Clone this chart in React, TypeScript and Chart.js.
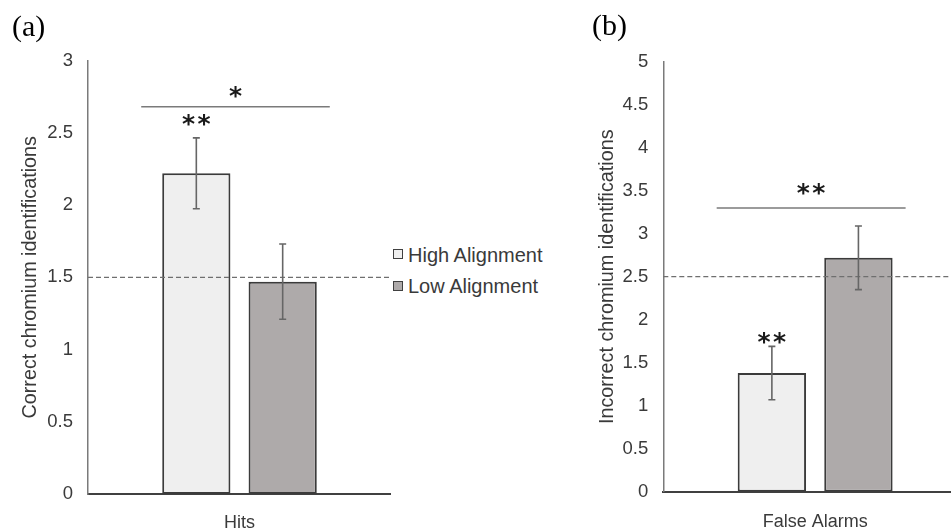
import React, { useEffect, useRef } from 'react';
import { Chart, registerables } from 'chart.js';

Chart.register(...registerables);

// ---------- data ----------
const seriesLabels = ['High Alignment', 'Low Alignment'];
const seriesFill = ['#efefef', '#aeaaaa'];

const hitsLabels = ['Hits'];
const hitsHigh = [2.22];
const hitsLow = [1.47];
const hitsHighErr = [0.245];
const hitsLowErr = [0.26];
const hitsTickLabels = ['0', '0.5', '1', '1.5', '2', '2.5', '3'];
const hitsMax = 3;
const hitsChance = 1.5;
const hitsBracketLevel = 2.68;
const hitsBracketStars = '*';
const hitsBracketStarLevel = 2.784;
const hitsBarStars = ['**', ''];
const hitsBarStarLevels = [2.587, 0];

const faLabels = ['False Alarms'];
const faHigh = [1.38];
const faLow = [2.72];
const faHighErr = [0.31];
const faLowErr = [0.37];
const faTickLabels = ['0', '0.5', '1', '1.5', '2', '2.5', '3', '3.5', '4', '4.5', '5'];
const faMax = 5;
const faChance = 2.5;
const faBracketLevel = 3.3;
const faBracketStars = '**';
const faBracketStarLevel = 3.523;
const faBarStars = ['**', ''];
const faBarStarLevels = [1.79, 0];

const TEXT = '#3a3a3a';
const SANS = 'Arial, "Liberation Sans", Helvetica, sans-serif';

function drawStars(ctx: CanvasRenderingContext2D, text: string, cx: number, cy: number) {
  if (!text) return;
  ctx.save();
  ctx.font = 'bold 25px "DejaVu Sans", sans-serif';
  ctx.fillStyle = '#1a1a1a';
  ctx.textAlign = 'center';
  ctx.textBaseline = 'alphabetic';
  const m = ctx.measureText('*');
  const baseline = cy + (m.actualBoundingBoxAscent - m.actualBoundingBoxDescent) / 2;
  const gap = 15.5;
  const n = text.length;
  for (let i = 0; i < n; i++) {
    const x = cx + (i - (n - 1) / 2) * gap;
    ctx.fillText('*', x, baseline);
  }
  ctx.restore();
}

const annotPlugin = {
  id: 'annot',
  afterDatasetsDraw(chart: any, _args: any, opts: any) {
    const { ctx, chartArea } = chart;
    const y = chart.scales.y;
    // chance line
    ctx.save();
    ctx.strokeStyle = '#6f6f6f';
    ctx.lineWidth = 1.3;
    ctx.setLineDash([5, 3]);
    const cy = y.getPixelForValue(opts.chance);
    ctx.beginPath();
    ctx.moveTo(chartArea.left, cy);
    ctx.lineTo(chartArea.right, cy);
    ctx.stroke();
    ctx.restore();

    // error bars
    const bars: any[] = [];
    chart.data.datasets.forEach((ds: any, di: number) => {
      const meta = chart.getDatasetMeta(di);
      meta.data.forEach((el: any, i: number) => {
        bars.push(el);
        const v = ds.data[i];
        const e = opts.errors[di][i];
        const yt = y.getPixelForValue(v + e);
        const yb = y.getPixelForValue(v - e);
        ctx.save();
        ctx.strokeStyle = '#666666';
        ctx.lineWidth = 1.6;
        ctx.beginPath();
        ctx.moveTo(el.x, yt);
        ctx.lineTo(el.x, yb);
        ctx.moveTo(el.x - 3.5, yt);
        ctx.lineTo(el.x + 3.5, yt);
        ctx.moveTo(el.x - 3.5, yb);
        ctx.lineTo(el.x + 3.5, yb);
        ctx.stroke();
        ctx.restore();
        drawStars(ctx, opts.barStars[di], el.x, y.getPixelForValue(opts.barStarLevels[di]));
      });
    });

    // significance bracket
    const b0 = bars[0];
    const b1 = bars[bars.length - 1];
    const x0 = b0.x - b0.width / 2 - 21;
    const x1 = b1.x + b1.width / 2 + 13;
    const by = y.getPixelForValue(opts.bracketLevel);
    ctx.save();
    ctx.strokeStyle = '#7a7a7a';
    ctx.lineWidth = 1.5;
    ctx.beginPath();
    ctx.moveTo(x0, by);
    ctx.lineTo(x1, by);
    ctx.stroke();
    ctx.restore();
    drawStars(ctx, opts.bracketStars, (x0 + x1) / 2, y.getPixelForValue(opts.bracketStarLevel));
  },
};

interface Panel {
  labels: string[];
  high: number[];
  low: number[];
  highErr: number[];
  lowErr: number[];
  tickLabels: string[];
  max: number;
  chance: number;
  bracketLevel: number;
  bracketStars: string;
  bracketStarLevel: number;
  barStars: string[];
  barStarLevels: number[];
  title: string;
  padTop: number;
  xHeight: number;
  xPad: number;
  yWidth: number;
  titlePad: number;
}

function buildConfig(p: Panel): any {
  const barCommon = {
    borderColor: '#3b3b3b',
    borderWidth: 2,
    borderSkipped: false,
    categoryPercentage: 0.57,
    barPercentage: 0.79,
  };
  return {
    type: 'bar',
    data: {
      labels: p.labels,
      datasets: [
        { label: seriesLabels[0], data: p.high, backgroundColor: seriesFill[0], ...barCommon },
        { label: seriesLabels[1], data: p.low, backgroundColor: seriesFill[1], ...barCommon },
      ],
    },
    options: {
      animation: false,
      responsive: false,
      maintainAspectRatio: false,
      layout: { padding: { top: p.padTop, left: 0, right: 0, bottom: 0 } },
      plugins: {
        legend: { display: false },
        tooltip: { enabled: false },
        annot: {
          chance: p.chance,
          errors: [p.highErr, p.lowErr],
          bracketLevel: p.bracketLevel,
          bracketStars: p.bracketStars,
          bracketStarLevel: p.bracketStarLevel,
          barStars: p.barStars,
          barStarLevels: p.barStarLevels,
        },
      },
      scales: {
        x: {
          grid: { display: false, drawTicks: false },
          border: { display: true, color: '#404040', width: 2 },
          ticks: { color: TEXT, font: { family: SANS, size: 18 }, padding: p.xPad },
          afterFit: (s: any) => {
            s.height = p.xHeight;
          },
        },
        y: {
          min: 0,
          max: p.max,
          grid: { display: false, drawTicks: false },
          border: { display: true, color: '#7a7a7a', width: 1.5 },
          ticks: {
            stepSize: 0.5,
            color: TEXT,
            font: { family: SANS, size: 18.5 },
            padding: 15,
            callback: (_v: any, i: number) => p.tickLabels[i],
          },
          title: {
            display: true,
            text: p.title,
            color: TEXT,
            font: { family: SANS, size: 19.8 },
            padding: { top: p.titlePad, bottom: 0 },
          },
          afterFit: (s: any) => {
            s.width = p.yWidth;
          },
        },
      },
    },
    plugins: [annotPlugin],
  };
}

const panelA: Panel = {
  labels: hitsLabels,
  high: hitsHigh,
  low: hitsLow,
  highErr: hitsHighErr,
  lowErr: hitsLowErr,
  tickLabels: hitsTickLabels,
  max: hitsMax,
  chance: hitsChance,
  bracketLevel: hitsBracketLevel,
  bracketStars: hitsBracketStars,
  bracketStarLevel: hitsBracketStarLevel,
  barStars: hitsBarStars,
  barStarLevels: hitsBarStarLevels,
  title: 'Correct chromium identifications',
  padTop: 60.6,
  xHeight: 37,
  xPad: 18,
  yWidth: 88,
  titlePad: 18.2,
};

const panelB: Panel = {
  labels: faLabels,
  high: faHigh,
  low: faLow,
  highErr: faHighErr,
  lowErr: faLowErr,
  tickLabels: faTickLabels,
  max: faMax,
  chance: faChance,
  bracketLevel: faBracketLevel,
  bracketStars: faBracketStars,
  bracketStarLevel: faBracketStarLevel,
  barStars: faBarStars,
  barStarLevels: faBarStarLevels,
  title: 'Incorrect chromium identifications',
  padTop: 61.7,
  xHeight: 39.3,
  xPad: 20,
  yWidth: 88.3,
  titlePad: 20.2,
};

export default function App() {
  const refA = useRef<HTMLCanvasElement>(null);
  const refB = useRef<HTMLCanvasElement>(null);

  useEffect(() => {
    const a = new Chart(refA.current as HTMLCanvasElement, buildConfig(panelA));
    const b = new Chart(refB.current as HTMLCanvasElement, buildConfig(panelB));
    return () => {
      a.destroy();
      b.destroy();
    };
  }, []);

  const legendText: React.CSSProperties = {
    position: 'absolute',
    left: 408,
    fontFamily: SANS,
    fontSize: 20,
    lineHeight: '20px',
    color: TEXT,
    whiteSpace: 'nowrap',
  };
  const sq = (fill: string, top: number): React.CSSProperties => ({
    position: 'absolute',
    left: 393,
    top,
    width: 10,
    height: 10,
    boxSizing: 'border-box',
    border: '1.5px solid #404040',
    background: fill,
  });
  const panelLabel: React.CSSProperties = {
    position: 'absolute',
    fontFamily: '"Liberation Serif", "Times New Roman", serif',
    fontSize: 30,
    lineHeight: '30px',
    color: '#000',
  };

  return (
    <div
      style={{
        position: 'fixed',
        left: 0,
        top: 0,
        width: 951,
        height: 531,
        overflow: 'hidden',
        background: '#fff',
      }}
    >
      <canvas ref={refA} width={391} height={531} style={{ position: 'absolute', left: 0, top: 0 }} />
      <canvas ref={refB} width={392} height={531} style={{ position: 'absolute', left: 575, top: 0 }} />
      <div style={{ ...panelLabel, left: 12, top: 11 }}>(a)</div>
      <div style={{ ...panelLabel, left: 592, top: 10 }}>(b)</div>
      <div style={sq(seriesFill[0], 249)} />
      <div style={{ ...legendText, top: 245 }}>{seriesLabels[0]}</div>
      <div style={sq(seriesFill[1], 281)} />
      <div style={{ ...legendText, top: 276 }}>{seriesLabels[1]}</div>
    </div>
  );
}
